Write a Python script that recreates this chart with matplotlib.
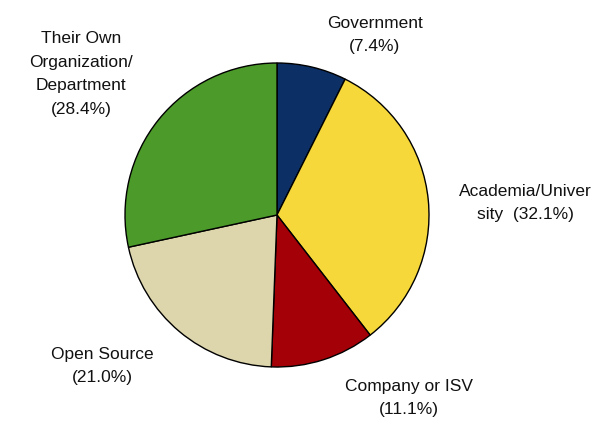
import matplotlib
matplotlib.use("Agg")
import matplotlib.pyplot as plt

labels = ["Government\n(7.4%)", "Academia/Univer\nsity  (32.1%)", "Company or ISV\n(11.1%)",
          "Open Source\n(21.0%)", "Their Own\nOrganization/\nDepartment\n(28.4%)"]
values = [7.4, 32.1, 11.1, 21.0, 28.4]
colors = ["#0c2f66", "#f6d83a", "#a30008", "#ddd6ac", "#4c9a2a"]
# label centres in pixel coords (from top-left)
label_pos = [(375, 35), (525, 203), (409, 398), (102, 366), (81, 74)]

W, H = 612, 421
fig = plt.figure(figsize=(W / 100, H / 100), dpi=100)
ax = fig.add_axes([0, 0, 1, 1])
ax.set_xlim(0, W)
ax.set_ylim(0, H)
ax.set_aspect("equal")
ax.axis("off")

ax.pie(values, colors=colors, startangle=90, counterclock=False,
       center=(277, H - 215), radius=152,
       wedgeprops=dict(edgecolor="black", linewidth=1.0))
ax.set_xlim(0, W)
ax.set_ylim(0, H)

for txt, (x, y) in zip(labels, label_pos):
    ax.text(x, H - y, txt, ha="center", va="center", fontsize=12.5,
            family="Liberation Sans", color="#111111", linespacing=1.7)

fig.savefig("out.png", dpi=100)
